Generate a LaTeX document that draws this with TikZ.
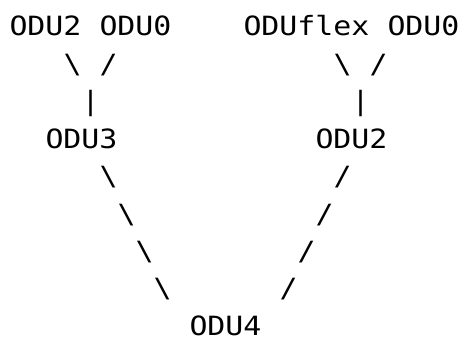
\documentclass[tikz,border=0pt]{standalone}
\usepackage{fontspec}
\setmonofont{DejaVu Sans Mono}[FakeStretch=1.128]
\tikzset{
  ascii/.style={
    font=\ttfamily\fontsize{26.5}{37.4}\selectfont,
    inner sep=0pt,
    outer sep=0pt,
    anchor=base west
  },
  odu/.style={ascii},
  link/.style={ascii}
}

\begin{document}
\begin{tikzpicture}[x=18pt,y=-37.4pt]
  \useasboundingbox (0pt,0pt) rectangle (461pt,-337pt);
  \begin{scope}[shift={(9.5pt,-36pt)}]
    % containers, one character cell per unit
    \node[odu] (odu2a) at (0,0) {ODU2};
    \node[odu] (odu0a) at (5,0) {ODU0};
    \node[odu] (oduflex) at (13,0) {ODUflex};
    \node[odu] (odu0b) at (21,0) {ODU0};
    \node[odu] (odu3) at (2,3) {ODU3};
    \node[odu] (odu2b) at (17,3) {ODU2};
    \node[odu] (odu4) at (10,8) {ODU4};
    % multiplexing links
    \foreach \c/\r in {3/1,18/1,5/4,6/5,7/6,8/7}
      \node[link] (bs-\c-\r) at (\c,\r) {\textbackslash};
    \foreach \c/\r in {5/1,20/1,18/4,17/5,16/6,15/7}
      \node[link] (sl-\c-\r) at (\c,\r) {/};
    \foreach \c in {4,19}
      \node[link] (bar-\c) at (\c,2) {|};
  \end{scope}
\end{tikzpicture}
\end{document}
